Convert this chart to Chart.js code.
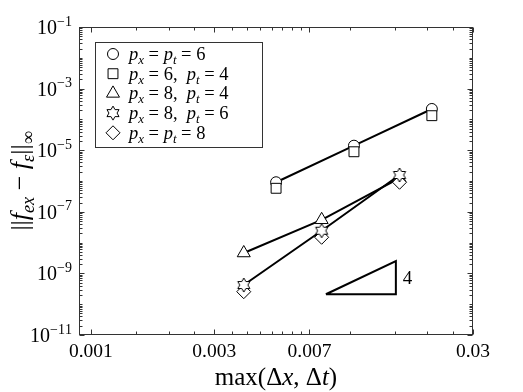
<!DOCTYPE html>
<html lang="en">
<head>
  <meta charset="UTF-8" />
  <title>Convergence of the sup-norm error</title>
  <script src="https://cdn.jsdelivr.net/npm/chart.js"></script>
  <style>
    body { margin: 0; background: #ffffff; }
    #wrap { width: 523px; height: 392px; }
  </style>
</head>
<body>
<div id="wrap"><canvas id="conv" width="523" height="392"></canvas></div>

<script>
// mesh size max(dx, dt) of the runs
const hCoarse = [0.0052, 0.0104, 0.0208];   // px = 6 runs
const hFine = [0.0039, 0.0078, 0.0156];     // px = 8 runs

// ||f_ex - f_eps||_inf for every (px, pt) pair
const errP6T6 = [9.1e-7, 1.40e-5, 2.18e-4];
const errP6T4 = [5.8e-7, 8.9e-6, 1.32e-4];
const errP8T4 = [4.6e-9, 5.5e-8, 1.25e-6];
const errP8T6 = [4.2e-10, 2.43e-8, 1.57e-6];
const errP8T8 = [2.55e-10, 1.49e-8, 9.1e-7];

const seriesNames = ['p_x = p_t = 6', 'p_x = 6,  p_t = 4', 'p_x = 8,  p_t = 4', 'p_x = 8,  p_t = 6', 'p_x = p_t = 8'];

// slope 4 reference triangle
const slopeX = [0.0081, 0.0151, 0.0151, 0.0081];
const slopeY = [2.1e-10, 2.1e-10, 2.5e-9, 2.1e-10];
const slopeLabel = '4';

// axes
const xTicks = [0.001, 0.003, 0.007, 0.03];
const xTickLabels = ['0.001', '0.003', '0.007', '0.03'];
const xMinorTicks = [0.0015, 0.002, 0.0025, 0.0035, 0.004, 0.0045, 0.005, 0.0055, 0.006, 0.0065, 0.01, 0.015, 0.02, 0.025];
const yTicks = [1e-11, 1e-9, 1e-7, 1e-5, 1e-3, 1e-1];
const yTickLabels = ['10^{−11}', '10^{−9}', '10^{−7}', '10^{−5}', '10^{−3}', '10^{−1}'];
const xTitle = 'max(Δx, Δt)';
const yTitle = '||f_{ex} − f_{ε}||_{∞}';

const FONT = '"Liberation Serif"';
const AXIS_COLOR = '#333333';

// tiny TeX-ish text: _x / _{..} subscripts, ^{..} superscripts, single letters italic
function parseTex(str) {
  const out = [];
  const isLetter = c => /[A-Za-zα-ω]/.test(c);
  let i = 0;
  while (i < str.length) {
    const c = str[i];
    if (c === '_' || c === '^') {
      i++;
      let g;
      if (str[i] === '{') {
        const j = str.indexOf('}', i);
        g = str.slice(i + 1, j);
        i = j + 1;
      } else {
        g = str[i++];
      }
      for (const ch of g) out.push({ t: ch, italic: isLetter(ch), level: c === '_' ? -1 : 1 });
    } else if (/[A-Za-z]/.test(c)) {
      let j = i;
      while (j < str.length && /[A-Za-z]/.test(str[j])) j++;
      if (j - i > 1) out.push({ t: str.slice(i, j), italic: false, level: 0 });
      else out.push({ t: c, italic: true, level: 0 });
      i = j;
    } else {
      out.push({ t: c, italic: isLetter(c), level: 0 });
      i++;
    }
  }
  return out;
}

function texFont(p, size) {
  const s = p.level ? size * 0.7 : size;
  return (p.italic ? 'italic ' : '') + s.toFixed(1) + 'px ' + FONT;
}

function drawTex(ctx, str, x, y, size, align) {
  const parts = parseTex(str);
  let w = 0;
  parts.forEach(p => { ctx.font = texFont(p, size); w += ctx.measureText(p.t).width; });
  let cx = align === 'right' ? x - w : align === 'center' ? x - w / 2 : x;
  ctx.textAlign = 'left';
  ctx.textBaseline = 'alphabetic';
  parts.forEach(p => {
    ctx.font = texFont(p, size);
    const dy = p.level === -1 ? size * 0.22 : p.level === 1 ? -size * 0.42 : 0;
    ctx.fillText(p.t, cx, y + dy);
    cx += ctx.measureText(p.t).width;
  });
}

// six-pointed star marker (no built-in hexagram in Chart.js)
function hexagram(r) {
  const c = document.createElement('canvas');
  const s = Math.ceil(r * 2 + 4);
  c.width = s; c.height = s;
  const g = c.getContext('2d');
  g.translate(s / 2, s / 2);
  g.beginPath();
  for (let k = 0; k < 12; k++) {
    const rr = k % 2 === 0 ? r : r / Math.sqrt(3);
    const a = -Math.PI / 2 + k * Math.PI / 6;
    const px = Math.cos(a) * rr, py = Math.sin(a) * rr;
    if (k === 0) g.moveTo(px, py); else g.lineTo(px, py);
  }
  g.closePath();
  g.fillStyle = '#ffffff';
  g.fill();
  g.strokeStyle = '#000000';
  g.lineWidth = 1;
  g.stroke();
  return c;
}
const starMarker = hexagram(7);

const pts = (xs, ys) => xs.map((x, i) => ({ x: x, y: ys[i] }));

function fitLine(xs, ys) {
  return { data: pts(xs, ys), showLine: true, pointRadius: 0, borderColor: '#000000', borderWidth: 2, order: 10 };
}

function markers(label, xs, ys, style, radius, order) {
  return {
    label: label, data: pts(xs, ys), showLine: false,
    pointStyle: style, pointRadius: radius, pointHoverRadius: radius,
    pointBackgroundColor: '#ffffff', pointBorderColor: '#000000', pointBorderWidth: 1,
    order: order
  };
}

// inward MATLAB-like ticks, box, tick labels, titles, legend
const axesDecor = {
  id: 'axesDecor',
  afterDatasetsDraw(chart) {
    const ctx = chart.ctx;
    const a = chart.chartArea;
    const xs = chart.scales.x, ys = chart.scales.y;
    ctx.save();
    ctx.strokeStyle = AXIS_COLOR;
    ctx.lineWidth = 1;
    const L = Math.round(a.left) + 0.5, R = Math.round(a.right) - 0.5;
    const T = Math.round(a.top) + 0.5, B = Math.round(a.bottom) - 0.5;
    ctx.strokeRect(L, T, R - L, B - T);

    const xTick = (v, len) => {
      const px = Math.round(xs.getPixelForValue(v)) + 0.5;
      ctx.moveTo(px, B); ctx.lineTo(px, B - len);
      ctx.moveTo(px, T); ctx.lineTo(px, T + len);
    };
    const yTick = (v, len) => {
      const py = Math.round(ys.getPixelForValue(v)) + 0.5;
      ctx.moveTo(L, py); ctx.lineTo(L + len, py);
      ctx.moveTo(R, py); ctx.lineTo(R - len, py);
    };
    ctx.beginPath();
    xTicks.forEach(v => xTick(v, 5));
    xMinorTicks.forEach(v => xTick(v, 3));
    yTicks.forEach(v => yTick(v, 5));
    for (let k = -11; k < -1; k++) {
      for (let m = 1; m < 10; m++) {
        const v = m * Math.pow(10, k);
        if (m === 1 && yTicks.includes(v)) continue;
        yTick(Number(v.toPrecision(3)), 3);
      }
    }
    ctx.stroke();

    ctx.fillStyle = '#000000';
    yTicks.forEach((v, i) => {
      drawTex(ctx, yTickLabels[i], a.left - 7, ys.getPixelForValue(v) + 7, 20, 'right');
    });

    drawTex(ctx, xTitle, (a.left + a.right) / 2, 385, 25, 'center');

    ctx.save();
    ctx.translate(28, (a.top + a.bottom) / 2);
    ctx.rotate(-Math.PI / 2);
    drawTex(ctx, yTitle, 0, 0, 26, 'center');
    ctx.restore();

    // slope label next to the vertical leg of the triangle
    drawTex(ctx, slopeLabel, xs.getPixelForValue(slopeX[1]) + 7,
      Math.sqrt(ys.getPixelForValue(slopeY[1]) * ys.getPixelForValue(slopeY[2])) + 7, 19, 'left');

    // legend box in the upper left corner
    const bx = a.left + 16, by = a.top + 15, bw = 167, bh = 105;
    ctx.fillStyle = '#ffffff';
    ctx.fillRect(bx, by, bw, bh);
    ctx.strokeStyle = AXIS_COLOR;
    ctx.strokeRect(Math.round(bx) + 0.5, Math.round(by) + 0.5, bw, bh);
    const sets = chart.data.datasets.filter(d => d.label);
    const orderOf = l => seriesNames.indexOf(l);
    sets.sort((p, q) => orderOf(p.label) - orderOf(q.label));
    sets.forEach((d, i) => {
      const rowY = by + 12 + i * 19.7;
      ctx.fillStyle = '#ffffff';
      ctx.strokeStyle = '#000000';
      ctx.lineWidth = 1;
      Chart.helpers.drawPoint(ctx, { pointStyle: d.pointStyle, radius: d.pointRadius, borderWidth: 1, rotation: 0 }, bx + 18, rowY);
      ctx.fillStyle = '#000000';
      drawTex(ctx, d.label, bx + 34, rowY + 6, 18.5, 'left');
    });
    ctx.restore();
  }
};

const ctx = document.getElementById('conv').getContext('2d');
const chart = new Chart(ctx, {
  type: 'scatter',
  data: {
    datasets: [
      fitLine(hCoarse, errP6T6),
      fitLine(hFine, errP8T4),
      fitLine(hFine, errP8T6),
      fitLine(slopeX, slopeY),
      markers(seriesNames[0], hCoarse, errP6T6, 'circle', 5.5, 6),
      markers(seriesNames[1], hCoarse, errP6T4, 'rect', 7, 2),
      markers(seriesNames[2], hFine, errP8T4, 'triangle', 7.5, 5),
      markers(seriesNames[3], hFine, errP8T6, starMarker, 7, 3),
      markers(seriesNames[4], hFine, errP8T8, 'rectRot', 7, 4)
    ]
  },
  options: {
    responsive: false,
    animation: false,
    devicePixelRatio: 1,
    layout: { padding: { top: 27, right: 50, bottom: 0, left: 0 } },
    plugins: { legend: { display: false }, tooltip: { enabled: false } },
    scales: {
      x: {
        type: 'logarithmic',
        min: 0.0009,
        max: 0.03,
        afterBuildTicks: scale => { scale.ticks = xTicks.map(v => ({ value: v })); },
        afterFit: scale => { scale.height = 57; },
        ticks: {
          autoSkip: false,
          maxRotation: 0,
          padding: 5,
          color: '#000000',
          font: { family: 'Liberation Serif', size: 19.5 },
          callback: (value, index) => xTickLabels[index]
        },
        grid: { display: false, drawTicks: false },
        border: { display: false }
      },
      y: {
        type: 'logarithmic',
        min: 1e-11,
        max: 1e-1,
        afterFit: scale => { scale.width = 79; },
        ticks: { display: false },
        grid: { display: false, drawTicks: false },
        border: { display: false }
      }
    }
  },
  plugins: [axesDecor]
});
</script>
</body>
</html>
